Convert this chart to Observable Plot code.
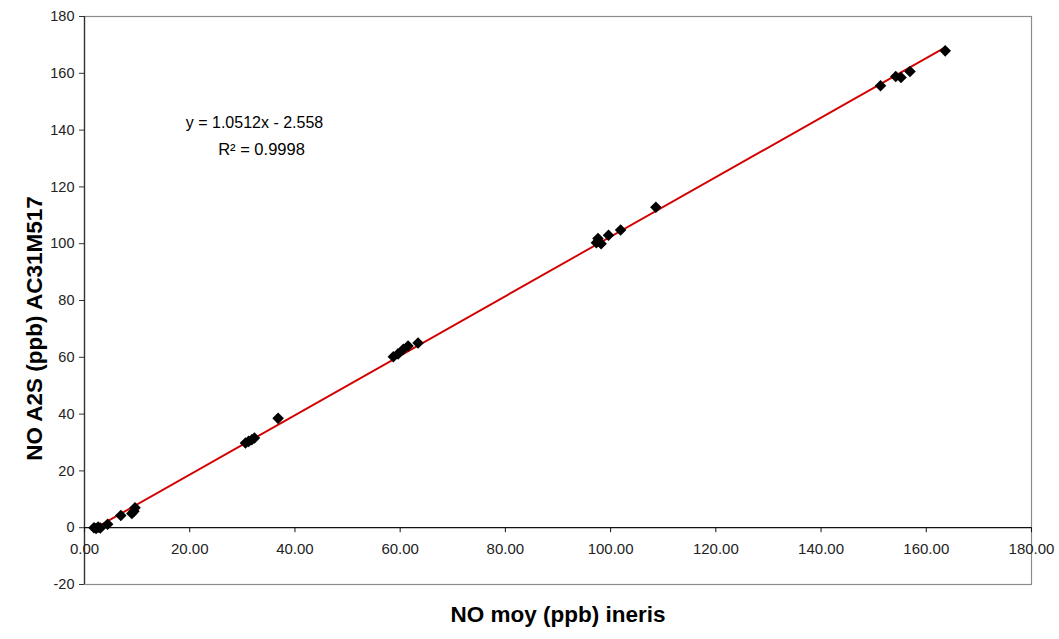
<!DOCTYPE html>
<html>
<head>
<meta charset="utf-8">
<script src="https://cdn.jsdelivr.net/npm/d3@7"></script>
<script src="https://cdn.jsdelivr.net/npm/@observablehq/plot@0.6"></script>
<style>
  html, body { margin: 0; padding: 0; background: #fff; }
  #chart svg { display: block; }
</style>
</head>
<body>
<div id="chart"></div>
<script>
// Data
const noIneris = [1.8, 2.2, 2.6, 3.0, 4.4, 6.9, 9.0, 9.4, 9.6,
  30.6, 31.2, 31.8, 32.3, 36.8,
  58.7, 59.6, 60.6, 61.5, 63.4,
  97.3, 97.6, 98.2, 99.6, 101.9, 108.6,
  151.3, 154.2, 155.2, 156.9, 163.6];
const noA2S = [0.0, -0.3, 0.2, -0.1, 1.2, 4.3, 5.0, 5.8, 7.0,
  29.8, 30.4, 31.0, 31.6, 38.5,
  60.2, 61.2, 62.8, 64.0, 65.0,
  100.3, 101.8, 100.0, 103.0, 104.8, 112.8,
  155.6, 158.9, 158.5, 160.6, 167.9];
const xTicks = [0, 20, 40, 60, 80, 100, 120, 140, 160, 180];
const yTicks = [-20, 0, 20, 40, 60, 80, 100, 120, 140, 160, 180];
const equationLines = ["y = 1.0512x - 2.558", "R² = 0.9998"];
const xTitle = "NO moy (ppb) ineris";
const yTitle = "NO A2S (ppb) AC31M517";

const data = noIneris.map((x, i) => ({x, y: noA2S[i]}));
const font = "'Liberation Sans', Arial, sans-serif";

const chart = Plot.plot({
  width: 1059,
  height: 639,
  marginLeft: 84,
  marginRight: 28,
  marginTop: 16,
  marginBottom: 55,
  style: {fontFamily: font, background: "#fff"},
  x: {domain: [0, 180], axis: null},
  y: {domain: [-20, 180], axis: null},
  marks: [
    Plot.frame({stroke: "#8c8c8c", strokeWidth: 1.2}),
    Plot.axisY(yTicks, {
      anchor: "left", tickSize: 5, tickPadding: 5, fontSize: 14.5,
      tickFormat: d => String(d),
      fill: "#222", stroke: "#333", label: null
    }),
    Plot.ruleX([0], {stroke: "#333", strokeWidth: 1.3}),
    Plot.ruleY([0], {stroke: "#111", strokeWidth: 1.3}),
    Plot.ruleX(xTicks, {x: d => d, y1: 0, y2: 0, insetTop: 5, insetBottom: 0, stroke: "#111"}),
    Plot.text(xTicks, {x: d => d, y: 0, text: d => d3.format(".2f")(d), dy: 21,
      fontSize: 15, fill: "#222"}),
    Plot.linearRegressionY(data, {x: "x", y: "y", ci: 0, stroke: "#d40000", strokeWidth: 1.9}),
    Plot.dot(data, {x: "x", y: "y", symbol: "diamond2", r: 5.2, fill: "#000", stroke: "none"}),
    Plot.text([equationLines[0]], {frameAnchor: "top-left", dx: 170, dy: 100, text: d => d,
      textAnchor: "middle", fontSize: 16, fill: "#000"}),
    Plot.text([equationLines[1]], {frameAnchor: "top-left", dx: 177, dy: 127, text: d => d,
      textAnchor: "middle", fontSize: 16.5, fill: "#000"}),
    Plot.text([xTitle], {frameAnchor: "bottom", dy: 37, text: d => d,
      fontSize: 22.5, fontWeight: "bold", fill: "#000"}),
    Plot.text([yTitle], {frameAnchor: "left", dx: -50, dy: 28, text: d => d, rotate: -90,
      textAnchor: "middle", fontSize: 22.5, fontWeight: "bold", fill: "#000"})
  ]
});
document.getElementById("chart").appendChild(chart);
</script>
</body>
</html>
